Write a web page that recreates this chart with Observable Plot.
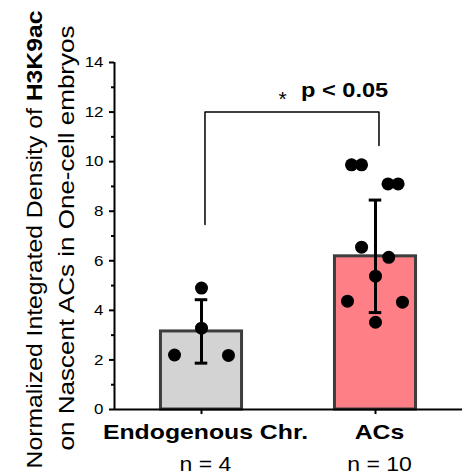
<!DOCTYPE html>
<html><head><meta charset="utf-8">
<script src="https://cdn.jsdelivr.net/npm/d3@7"></script>
<script src="https://cdn.jsdelivr.net/npm/@observablehq/plot@0.6"></script>
<style>body{margin:0;background:#fff;} #chart svg{display:block}</style>
</head><body><div id="chart"></div>
<script>
// ---- data ----
const categories = ["Endogenous Chr.", "ACs"];
const nLabels = ["n = 4", "n = 10"];
const means = [3.15, 6.18];
const sds = [1.28, 2.27];
const barColors = ["#d3d3d3", "#ff7f87"];
const endoValues = [2.2, 4.9, 3.28, 2.18];
const endoJitter = [-0.155, 0, 0, 0.155];
const acsValues = [9.87, 9.87, 9.1, 9.1, 6.55, 6.14, 5.38, 4.37, 4.33, 3.52];
const acsJitter = [-0.138, -0.08, 0.072, 0.13, -0.08, 0.076, 0, -0.161, 0.155, 0];
const yMajorTicks = [0, 2, 4, 6, 8, 10, 12, 14];
const yMinorTicks = [1, 3, 5, 7, 9, 11, 13];
const sigLegs = [7.46, 10.65];
const sigTop = 12;
const sigText = "p < 0.05";
const sigStar = "*";
const yTitle1 = "Normalized Integrated Density of ";
const yTitle1Bold = "H3K9ac";
const yTitle2 = "on Nascent ACs in One-cell embryos";

// ---- build tables ----
const bars = categories.map((c, i) => ({cat: c, n: nLabels[i], pos: i + 1, mean: means[i], sd: sds[i], fill: barColors[i]}));
const points = [
  ...endoValues.map((v, i) => ({x: 1 + endoJitter[i], y: v})),
  ...acsValues.map((v, i) => ({x: 2 + acsJitter[i], y: v}))
];
const bx = [1.02, 2.02];
const bracket = [
  {x: bx[0], y: sigLegs[0]}, {x: bx[0], y: sigTop},
  {x: bx[1], y: sigTop}, {x: bx[1], y: sigLegs[1]}
];
const sigMid = [{x: (bx[0] + bx[1]) / 2, y: sigTop}];
const BAR_HALF = 0.233, CAP_HALF = 0.036;
const FONT = "'Liberation Sans', Arial, sans-serif";

const plot = Plot.plot({
  width: 469, height: 474,
  marginLeft: 114, marginRight: 7, marginTop: 62, marginBottom: 65,
  style: {fontFamily: FONT, fontSize: "14px", background: "white", color: "black"},
  x: {domain: [0.5, 2.5], axis: null},
  y: {domain: [0, 14], axis: null},
  color: {type: "identity"},
  marks: [
    Plot.rectY(bars, {x1: d => d.pos - BAR_HALF, x2: d => d.pos + BAR_HALF, y1: 0, y2: "mean", fill: "fill", stroke: "#3d3d3d", strokeWidth: 3}),
    Plot.ruleX(bars, {x: "pos", y1: d => d.mean - d.sd, y2: d => d.mean + d.sd, stroke: "black", strokeWidth: 3}),
    Plot.ruleY(bars, {y: d => d.mean + d.sd, x1: d => d.pos - CAP_HALF, x2: d => d.pos + CAP_HALF, stroke: "black", strokeWidth: 3}),
    Plot.ruleY(bars, {y: d => d.mean - d.sd, x1: d => d.pos - CAP_HALF, x2: d => d.pos + CAP_HALF, stroke: "black", strokeWidth: 3}),
    Plot.dot(points, {x: "x", y: "y", r: 6.5, fill: "black", stroke: "none"}),
    Plot.line(bracket, {x: "x", y: "y", stroke: "black", strokeWidth: 1.5}),
    Plot.text(sigMid, {x: "x", y: "y", text: () => sigText, textAnchor: "start", lineAnchor: "bottom", dx: 9, dy: -14.8, fontWeight: "bold", fontSize: 20, className: "sigtxt"}),
    Plot.text(sigMid, {x: "x", y: "y", text: () => sigStar, textAnchor: "middle", lineAnchor: "bottom", dx: -9.5, dy: -6, fontSize: 21, className: "sigstar"}),
    // axes
    Plot.ruleX([0.5], {y1: 0, y2: 14, stroke: "black", strokeWidth: 2}),
    Plot.ruleY([0], {stroke: "black", strokeWidth: 2}),
    Plot.axisY(yMajorTicks, {anchor: "left", tickSize: 5, tickPadding: 6, strokeWidth: 2, fontSize: 15, label: null, className: "ytick"}),
    Plot.axisY(yMinorTicks, {anchor: "left", tickSize: 3, strokeWidth: 2, tickFormat: () => "", label: null}),
    Plot.axisX([1, 2], {anchor: "bottom", tickSize: 5, strokeWidth: 2, tickFormat: () => "", label: null}),
    Plot.text(bars, {x: "pos", text: "cat", frameAnchor: "bottom", lineAnchor: "bottom", dx: 4, dy: 29.3, fontWeight: "bold", fontSize: 21}),
    Plot.text(bars, {x: "pos", text: "n", frameAnchor: "bottom", lineAnchor: "bottom", dx: 4, dy: 61.7, fontSize: 19.5}),
    Plot.text([yTitle1], {text: d => d, frameAnchor: "left", rotate: -90, textAnchor: "middle", lineAnchor: "bottom", dx: -73, dy: 3.5, fontSize: 22, className: "ytitle1"}),
    Plot.text([yTitle2], {text: d => d, frameAnchor: "left", rotate: -90, textAnchor: "middle", lineAnchor: "bottom", dx: -41, dy: 2, fontSize: 22, className: "ytitle2"})
  ]
});

document.getElementById("chart").append(plot);

// bold part of first y title line
const t1 = plot.querySelector(".ytitle1 text");
if (t1) {
  t1.textContent = yTitle1;
  const ts = document.createElementNS("http://www.w3.org/2000/svg", "tspan");
  ts.setAttribute("font-weight", "bold");
  ts.textContent = yTitle1Bold;
  t1.appendChild(ts);
}

// the reference font is set wider than Arial: stretch along the text direction
plot.querySelectorAll("text").forEach(t => {
  const g = t.closest("g");
  const cls = g ? g.getAttribute("class") || "" : "";
  let target = null;
  if (cls.includes("ytitle1")) target = 458;
  else if (cls.includes("ytitle2")) target = 425;
  else if (cls.includes("sigstar")) target = null;
  else {
    const len = t.getComputedTextLength();
    const k = cls.includes("ytick") ? 1.13 : 1.18;
    if (len > 0) target = len * k;
  }
  if (target) {
    t.setAttribute("textLength", target);
    t.setAttribute("lengthAdjust", "spacingAndGlyphs");
  }
});
</script>
</body></html>
